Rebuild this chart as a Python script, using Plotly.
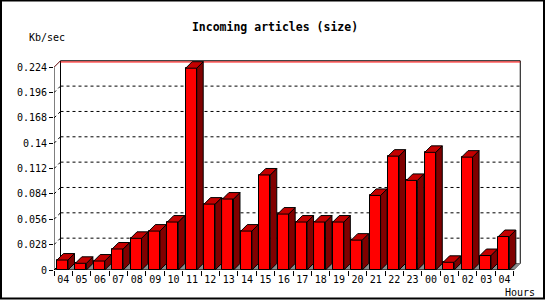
import plotly.graph_objects as go

# ---- data ----
hours = ["04", "05", "06", "07", "08", "09", "10", "11", "12", "13", "14", "15", "16",
         "17", "18", "19", "20", "21", "22", "23", "00", "01", "02", "03", "04"]
kbsec = [0.011, 0.0074, 0.0099, 0.0232, 0.035, 0.043, 0.053, 0.223, 0.0728, 0.0784,
         0.043, 0.105, 0.0618, 0.053, 0.053, 0.053, 0.033, 0.0824, 0.1258, 0.099,
         0.130, 0.0085, 0.1247, 0.016, 0.037]
ytick_vals = [0, 0.028, 0.056, 0.084, 0.112, 0.14, 0.168, 0.196, 0.224]
ytick_text = ["0", "0.028", "0.056", "0.084", "0.112", "0.14", "0.168", "0.196", "0.224"]
title_text = "Incoming articles (size)"
ylabel = "Kb/sec"
xlabel = "Hours"

# ---- geometry (pixels) ----
W, H = 550, 300
ML, MR, MT, MB = 54, 27, 57, 30
PW, PH = W - ML - MR, H - MT - MB
CAT_PX = 18.39
UNIT_PX = 905.0
DX_PX, DY_PX = 6.5, 6.5
n = len(hours)
xmin = -0.5
xmax = xmin + PW / CAT_PX
ymax = PH / UNIT_PX
dxu = DX_PX / CAT_PX
dyu = DY_PX / UNIT_PX
ytop = ytick_vals[-1]
xlast = n - 0.5

BAR_OFF = -0.34
BAR_W = 0.6
FONT = "DejaVu Sans Mono"

xs = list(range(n))

fig = go.Figure()

# front faces
fig.add_trace(go.Bar(x=xs, y=kbsec, width=BAR_W, offset=BAR_OFF,
                     marker=dict(color="#ff0000", line=dict(color="black", width=1)),
                     hoverinfo="skip", showlegend=False))

# side and top faces
sx, sy, tx, ty = [], [], [], []
for i, v in zip(xs, kbsec):
    xl = i + BAR_OFF
    xr = xl + BAR_W
    sx += [xr, xr + dxu, xr + dxu, xr, xr, None]
    sy += [0, dyu, v + dyu, v, 0, None]
    tx += [xl, xl + dxu, xr + dxu, xr, xl, None]
    ty += [v, v + dyu, v + dyu, v, v, None]
fig.add_trace(go.Scatter(x=sx, y=sy, mode="lines", fill="toself", fillcolor="#800000",
                         line=dict(color="black", width=1), hoverinfo="skip", showlegend=False))
fig.add_trace(go.Scatter(x=tx, y=ty, mode="lines", fill="toself", fillcolor="#c40000",
                         line=dict(color="black", width=1), hoverinfo="skip", showlegend=False))

shapes = []
# back wall
shapes.append(dict(type="rect", xref="x", yref="y", x0=xmin + dxu, x1=xlast + dxu,
                   y0=dyu, y1=ytop + dyu, line=dict(color="black", width=1),
                   fillcolor="white", layer="below"))
# gridlines on back wall and side wall
for v in ytick_vals[1:-1]:
    shapes.append(dict(type="line", xref="x", yref="y", x0=xmin + dxu, x1=xlast + dxu,
                       y0=v + dyu, y1=v + dyu, line=dict(color="black", width=1, dash="3px,3px"),
                       layer="below"))
    shapes.append(dict(type="line", xref="x", yref="y", x0=xmin, x1=xmin + dxu,
                       y0=v, y1=v + dyu, line=dict(color="black", width=1, dash="3px,3px"),
                       layer="below"))
# red top line
shapes.append(dict(type="line", xref="x", yref="y", x0=xmin + dxu, x1=xlast + dxu,
                   y0=ytop + dyu - 1.2 / UNIT_PX, y1=ytop + dyu - 1.2 / UNIT_PX,
                   line=dict(color="#ff0000", width=1), layer="below"))
# floor
shapes.append(dict(type="path", xref="x", yref="y",
                   path=f"M {xmin},0 L {xlast},0 L {xlast + dxu},{dyu} L {xmin + dxu},{dyu} Z",
                   fillcolor="#8c8c8c", line=dict(color="#6e6e6e", width=1), layer="below"))
# front axis lines and top diagonal
shapes.append(dict(type="line", xref="x", yref="y", x0=xmin, x1=xmin, y0=0, y1=ytop,
                   line=dict(color="black", width=1), layer="above"))
shapes.append(dict(type="line", xref="x", yref="y", x0=xmin, x1=xlast, y0=0, y1=0,
                   line=dict(color="black", width=1), layer="above"))
shapes.append(dict(type="line", xref="x", yref="y", x0=xmin, x1=xmin + dxu, y0=ytop, y1=ytop + dyu,
                   line=dict(color="#600000", width=1), layer="below"))
shapes.append(dict(type="line", xref="x", yref="y", x0=xmin, x1=xmin + dxu, y0=0, y1=dyu,
                   line=dict(color="black", width=1), layer="below"))


def px2paper_x(px):
    return (px - ML) / PW


def px2paper_y(py):
    return (H - MB - py) / PH


# outer frame
shapes.append(dict(type="rect", xref="paper", yref="paper",
                   x0=px2paper_x(1), x1=px2paper_x(544), y0=px2paper_y(298.5), y1=px2paper_y(0.5),
                   line=dict(color="black", width=2), fillcolor="rgba(0,0,0,0)", layer="above"))

annotations = [
    dict(text=ylabel, xref="paper", yref="paper", x=px2paper_x(47), y=px2paper_y(37),
         xanchor="center", yanchor="middle", showarrow=False,
         font=dict(family=FONT, size=10, color="black")),
    dict(text=xlabel, xref="paper", yref="paper", x=px2paper_x(520), y=px2paper_y(292.5),
         xanchor="center", yanchor="middle", showarrow=False,
         font=dict(family=FONT, size=10, color="black")),
]

fig.update_layout(
    width=W, height=H,
    margin=dict(l=ML, r=MR, t=MT, b=MB, pad=0),
    paper_bgcolor="white", plot_bgcolor="white",
    title=dict(text="<b>" + title_text + "</b>", x=0.5, xref="container", xanchor="center",
               y=1 - 27 / H, yref="container", yanchor="middle",
               font=dict(family=FONT, size=11.5, color="black")),
    shapes=shapes, annotations=annotations,
    bargap=0,
    xaxis=dict(range=[xmin, xmax], tickmode="array", tickvals=xs, ticktext=hours,
               ticks="", showgrid=False, zeroline=False, showline=False,
               tickfont=dict(family=FONT, size=10, color="black"),
               ticklabelstandoff=2,
               minor=dict(tickmode="linear", tick0=-0.5, dtick=1, ticks="outside",
                          ticklen=5, tickcolor="black", tickwidth=1, showgrid=False),
               fixedrange=True),
    yaxis=dict(range=[0, ymax], tickmode="array", tickvals=ytick_vals, ticktext=ytick_text,
               ticks="outside", ticklen=4, tickcolor="black", tickwidth=1,
               showgrid=False, zeroline=False, showline=False,
               tickfont=dict(family=FONT, size=10, color="black"),
               fixedrange=True),
)

fig.write_html("out.html")
